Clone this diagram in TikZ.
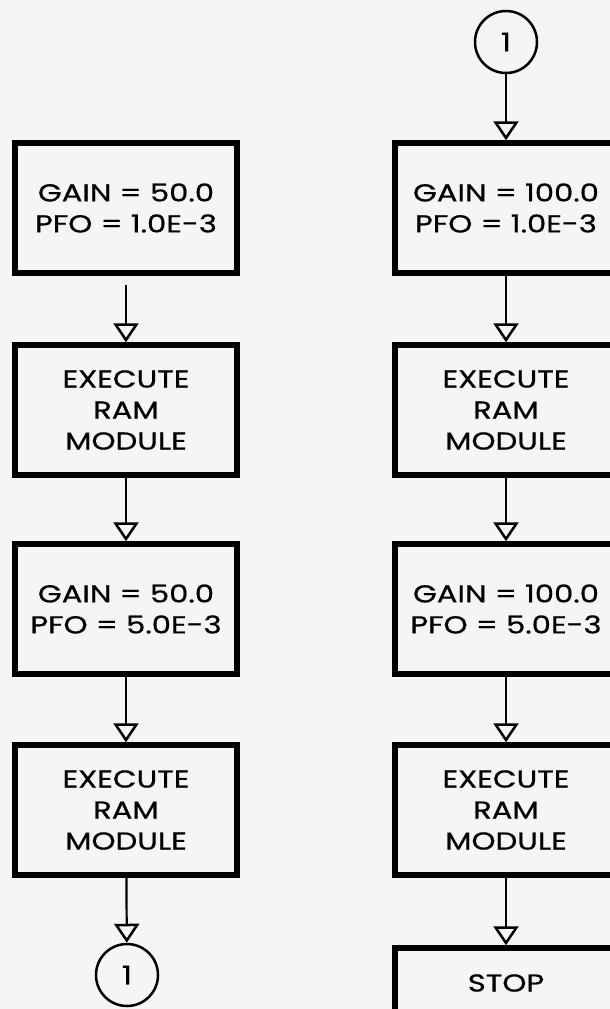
\documentclass[tikz,border=0pt]{standalone}
\usepackage{fontspec}
\setmainfont{Poppins}[FakeStretch=1.25, FakeBold=0.7]
\usetikzlibrary{arrows.meta}
\begin{document}
\begin{tikzpicture}[x=1pt,y=-1pt,
  box/.style={draw, line width=5.5pt, minimum width=222pt, minimum height=130pt, align=center, font=\fontsize{24.5}{31}\selectfont, inner sep=0pt},
  conn/.style={draw, circle, line width=2.5pt, minimum size=62pt, font=\fontsize{26}{31}\selectfont, inner sep=0pt},
  flow/.style={line width=2.2pt, -{Triangle[open, length=19pt, width=25pt, line width=2.5pt]}}
]
\clip (0,0) rectangle (610,1009);
\fill[black!4] (0,0) rectangle (610,1009);
% right column
\node[conn] (c1) at (506,42) {1};
\node[box] (r1) at (506,208) {GAIN = 100.0\\PFO = 1.0E-3};
\node[box] (r2) at (506,410) {EXECUTE\\RAM\\MODULE};
\node[box] (r3) at (506,609) {GAIN = 100.0\\PFO = 5.0E-3};
\node[box] (r4) at (506,810) {EXECUTE\\RAM\\MODULE};
\node[box, minimum height=70pt] (stop) at (506,983) {STOP};
% left column
\node[box] (l1) at (126,208) {GAIN = 50.0\\PFO = 1.0E-3};
\node[box] (l2) at (126,410) {EXECUTE\\RAM\\MODULE};
\node[box] (l3) at (126,609) {GAIN = 50.0\\PFO = 5.0E-3};
\node[box] (l4) at (126,810) {EXECUTE\\RAM\\MODULE};
\node[conn] (c2) at (127,975) {1};
% connectors
\draw[flow] (c1) -- (r1);
\draw[flow] (r1) -- (r2);
\draw[flow] (r2) -- (r3);
\draw[flow] (r3) -- (r4);
\draw[flow] (r4) -- (stop);
\draw[flow, shorten <=9pt] (l1) -- (l2);
\draw[flow] (l2) -- (l3);
\draw[flow] (l3) -- (l4);
\draw[flow] (l4) -- (c2);
\end{tikzpicture}
\end{document}
